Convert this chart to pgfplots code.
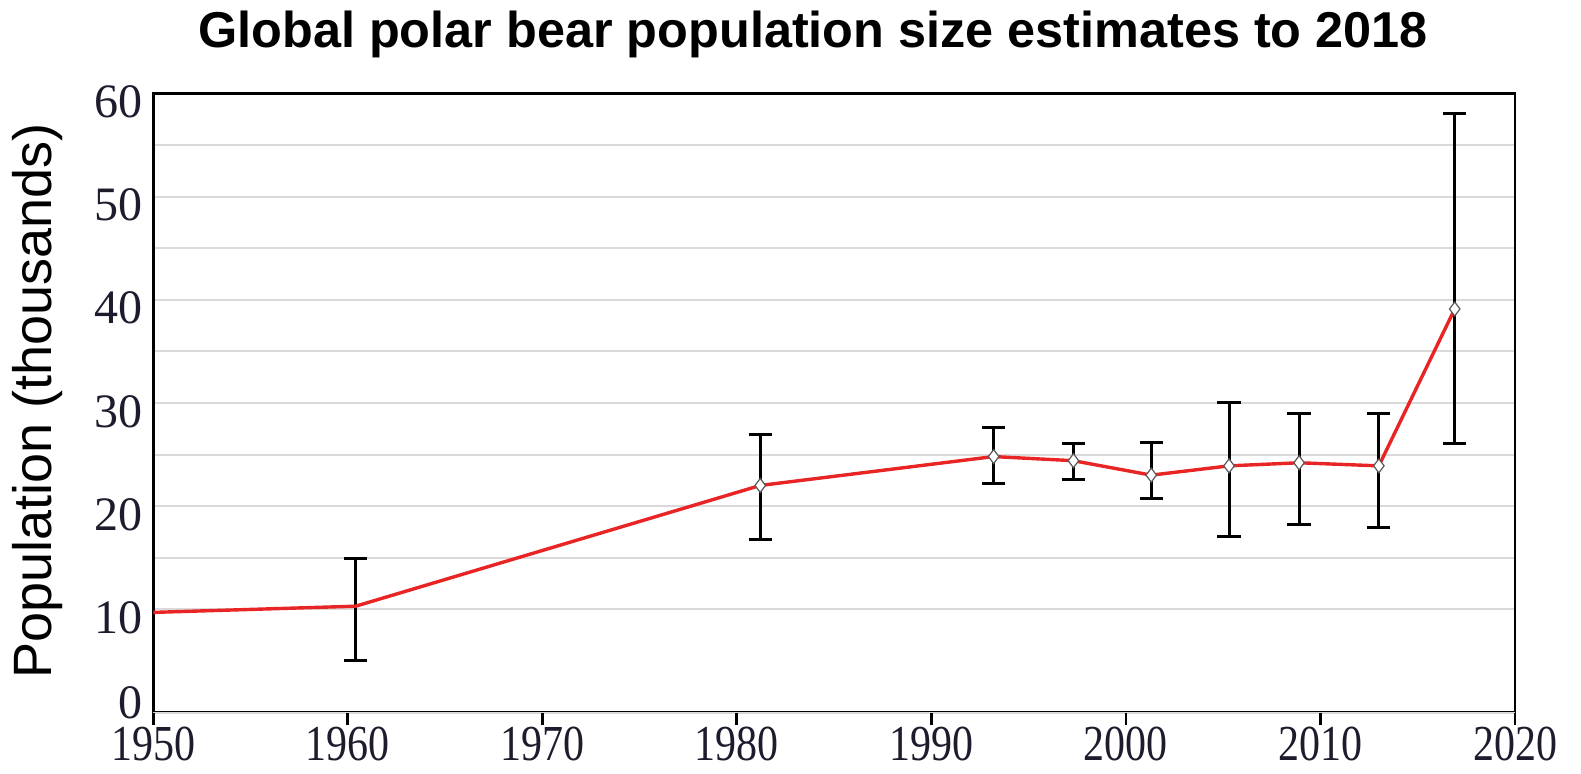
\documentclass[border=0pt]{standalone}
\usepackage{fontspec}
\setmainfont{Liberation Serif}
\newfontfamily\sansfont{Liberation Sans}
\usepackage{graphicx}
\usepackage{pgfplots}
\pgfplotsset{compat=1.18}
\definecolor{lred}{RGB}{232,36,36}
\definecolor{tickc}{RGB}{28,28,45}
\definecolor{gridc}{RGB}{218,218,218}
\begin{document}
\begin{tikzpicture}
\useasboundingbox (-76.65pt,-30.25pt) rectangle (713.85pt,356.25pt);
\begin{axis}[
  at={(0,0)}, anchor=south west,
  scale only axis, width=680.85pt, height=309.6pt,
  xmin=1950, xmax=2020, ymin=0, ymax=60,
  xtick={1950,1960,...,2020},
  ytick={10,20,...,60},
  extra y ticks={0},
  extra y tick style={yticklabel style={yshift=9.25pt}},
  minor y tick num=1,
  ymajorgrids, yminorgrids,
  major grid style={gridc, line width=1pt},
  minor grid style={gridc, line width=1pt},
  axis line style={black, line width=1.4pt},
  tick align=outside,
  xtick pos=bottom,
  ytick pos=left,
  major tick length=6pt,
  minor tick length=0pt,
  x tick style={draw=black, line width=1.4pt},
  y tick style={draw=none},
  /pgf/number format/1000 sep={},
  /pgf/number format/assume math mode=true,
  xticklabel={\scalebox{1}[1.2]{\pgfmathprintnumber[assume math mode=true,1000 sep={}]{\tick}}},
  xticklabel style={font=\fontsize{21}{21}\selectfont, text=tickc, inner sep=0pt, anchor=north, yshift=-1pt},
  yticklabel style={font=\fontsize{24}{24}\selectfont, text=tickc, inner sep=0pt, anchor=east, xshift=1pt, yshift=-4.25pt},
  clip=false,
]
% error bars
\addplot[draw=none, mark=none, forget plot,
  error bars/.cd, y dir=both, y explicit, error mark=-,
  error bar style={draw=black, solid, line width=1.5pt},
  error mark options={rotate=90, draw=black, solid, line width=1.5pt, mark size=5.8pt}]
  table[x=x, y=y, y error plus=ep, y error minus=em] {
x      y     ep    em
1960.4 10.3  4.6   5.3
1981.2 22.0  4.9   5.2
1993.2 24.8  2.8   2.6
1997.3 24.4  1.7   1.8
2001.3 23.0  3.2   2.3
2005.3 23.9  6.1   6.8
2008.9 24.2  4.8   6.0
2013.0 23.9  5.1   6.0
2016.9 39.1  18.9  13.0
};
% red line
\addplot[lred, line width=1.7pt, mark=none] table[x=x, y=y] {
x      y
1950   9.7
1960.4 10.3
1981.2 22.0
1993.2 24.8
1997.3 24.4
2001.3 23.0
2005.3 23.9
2008.9 24.2
2013.0 23.9
2016.9 39.1
};
% diamonds
\addplot[only marks, mark=diamond*, mark size=3.5pt,
  mark options={fill=white, draw=black!65, line width=0.6pt}] table[x=x, y=y] {
x      y
1981.2 22.0
1993.2 24.8
1997.3 24.4
2001.3 23.0
2005.3 23.9
2008.9 24.2
2013.0 23.9
2016.9 39.1
};
% tick marks below the x axis
\pgfplotsinvokeforeach{1950,1960,1970,1980,1990,2000,2010,2020}{
  \draw[black, line width=1.4pt] (axis cs:#1,0) -- ([yshift=-5pt]axis cs:#1,0);
}
\end{axis}
\node[anchor=base, font=\sansfont\bfseries\fontsize{25.2}{25.2}\selectfont] at (329.9pt,332.5pt) {Global polar bear population size estimates to 2018};
\node[rotate=90, font=\sansfont\fontsize{27}{27}\selectfont] at (-57.9pt,155.85pt) {Population (thousands)};
\end{tikzpicture}
\end{document}
